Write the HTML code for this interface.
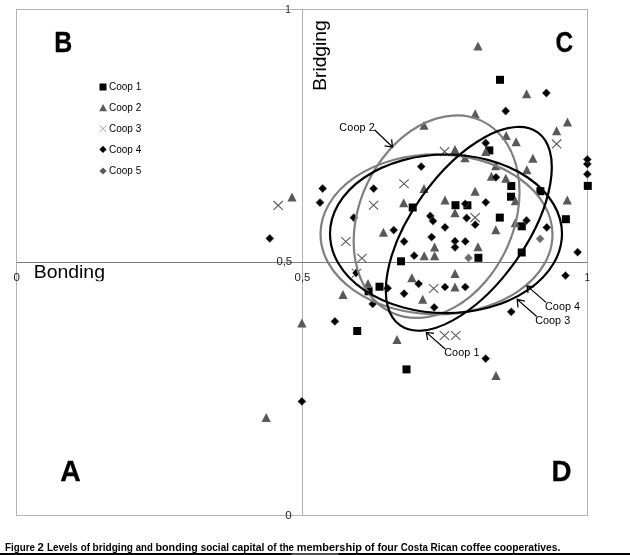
<!DOCTYPE html>
<html><head><meta charset="utf-8"><title>Figure 2</title>
<style>
html,body{margin:0;padding:0;background:#fff}
body{width:630px;height:555px;overflow:hidden;position:relative;font-family:"Liberation Sans",sans-serif}
svg{position:absolute;left:0;top:0;display:block}
text{font-family:"Liberation Sans",sans-serif;fill:#000}
.q{font-weight:bold;font-size:30.4px;stroke:#000;stroke-width:0.3px}
.ax{font-size:18.6px}
.tk{font-size:10px;fill:#222}
.lg{font-size:10px;fill:#000}
.lb{font-size:10.8px;fill:#000}
.cap text{font-weight:bold;font-size:11.8px}
</style></head><body>
<svg width="630" height="555" viewBox="0 0 630 555">
<rect width="630" height="555" fill="#fff"/>
<rect x="16.5" y="9.5" width="571" height="506" fill="none" stroke="#b4b4b4" stroke-width="1"/>
<line x1="302.5" y1="9.5" x2="302.5" y2="515.5" stroke="#b0b0b0" stroke-width="1"/>
<line x1="16.5" y1="262.5" x2="587.5" y2="262.5" stroke="#7c7c7c" stroke-width="1"/>
<text class="q" x="54.3" y="52" textLength="18" lengthAdjust="spacingAndGlyphs">B</text>
<text class="q" x="555.4" y="52" textLength="17.6" lengthAdjust="spacingAndGlyphs">C</text>
<text class="q" x="60.2" y="481" textLength="20.5" lengthAdjust="spacingAndGlyphs">A</text>
<text class="q" x="551.6" y="480.7" textLength="20" lengthAdjust="spacingAndGlyphs">D</text>
<svg x="0" y="255" width="200" height="26.2" viewBox="0 255 200 26.2"><text class="ax" x="33.7" y="278.2" textLength="71.3" lengthAdjust="spacingAndGlyphs">Bonding</text></svg>
<text class="ax" transform="translate(325.7 90.8) rotate(-90)" x="0" y="0" textLength="70.5" lengthAdjust="spacingAndGlyphs">Bridging</text>
<text class="tk" x="13.6" y="281" textLength="6.4" lengthAdjust="spacingAndGlyphs">0</text>
<text class="tk" x="584.6" y="281">1</text>
<text class="tk" x="285.2" y="12.8">1</text>
<text class="tk" x="276.4" y="265.2" textLength="15.8" lengthAdjust="spacingAndGlyphs">0,5</text>
<text class="tk" x="294.6" y="281.2" textLength="15.8" lengthAdjust="spacingAndGlyphs">0,5</text>
<text class="tk" x="285.2" y="519.1" textLength="6.4" lengthAdjust="spacingAndGlyphs">0</text>
<g class="lg">
<rect x="99.5" y="83.5" width="7" height="7" fill="#000"/>
<path d="M103.1 104L107 111.3H99.2Z" fill="#595959"/>
<path d="M99.5 125.3L106.5 132M106.5 125.3L99.5 132" stroke="#8a8a8a" stroke-width="0.8" fill="none"/>
<path d="M103 145.8L106.6 149.4L103 153L99.4 149.4Z" fill="#000"/>
<path d="M103 167.4L106.6 171L103 174.6L99.4 171Z" fill="#595959"/>
<text x="109" y="90.2">Coop 1</text>
<text x="109" y="111">Coop 2</text>
<text x="109" y="131.8">Coop 3</text>
<text x="109" y="152.6">Coop 4</text>
<text x="109" y="174.2">Coop 5</text>
</g>
<g fill="#000"><rect x="496.0" y="75.8" width="8" height="8"/><rect x="485.3" y="146.4" width="8" height="8"/><rect x="507.3" y="182.0" width="8" height="8"/><rect x="507.0" y="192.7" width="8" height="8"/><rect x="536.4" y="187.2" width="8" height="8"/><rect x="583.8" y="181.9" width="8" height="8"/><rect x="561.9" y="215.2" width="8" height="8"/><rect x="495.8" y="213.6" width="8" height="8"/><rect x="517.8" y="222.3" width="8" height="8"/><rect x="408.7" y="203.5" width="8" height="8"/><rect x="451.5" y="201.2" width="8" height="8"/><rect x="463.4" y="201.3" width="8" height="8"/><rect x="474.4" y="253.8" width="8" height="8"/><rect x="517.7" y="248.5" width="8" height="8"/><rect x="397.0" y="257.3" width="8" height="8"/><rect x="375.5" y="282.7" width="8" height="8"/><rect x="364.6" y="287.3" width="8" height="8"/><rect x="353.2" y="327.0" width="8" height="8"/><rect x="402.5" y="365.4" width="8" height="8"/></g>
<g fill="#595959"><path d="M292.0 192.5L296.6 201.5H287.4Z"/><path d="M478.0 41.5L482.6 50.5H473.4Z"/><path d="M475.2 109.3L479.8 118.3H470.6Z"/><path d="M424.0 120.8L428.6 129.8H419.4Z"/><path d="M526.6 89.2L531.2 98.2H522.0Z"/><path d="M567.5 117.5L572.1 126.5H562.9Z"/><path d="M506.2 131.0L510.8 140.0H501.6Z"/><path d="M516.1 137.2L520.8 146.2H511.5Z"/><path d="M532.9 153.8L537.5 162.8H528.2Z"/><path d="M526.9 165.3L531.5 174.3H522.2Z"/><path d="M455.0 145.1L459.6 154.1H450.4Z"/><path d="M465.0 153.3L469.6 162.3H460.4Z"/><path d="M485.7 146.9L490.3 155.9H481.1Z"/><path d="M495.8 161.3L500.4 170.3H491.2Z"/><path d="M491.4 171.7L496.0 180.7H486.8Z"/><path d="M505.8 173.7L510.4 182.7H501.2Z"/><path d="M424.0 184.1L428.6 193.1H419.4Z"/><path d="M475.1 186.8L479.8 195.8H470.5Z"/><path d="M445.0 195.4L449.6 204.4H440.4Z"/><path d="M403.7 198.3L408.3 207.3H399.1Z"/><path d="M455.0 208.3L459.6 217.3H450.4Z"/><path d="M515.4 196.3L520.0 205.3H510.8Z"/><path d="M567.3 195.6L571.9 204.6H562.6Z"/><path d="M515.3 218.2L519.9 227.2H510.6Z"/><path d="M495.8 225.3L500.4 234.3H491.2Z"/><path d="M383.4 227.8L388.0 236.8H378.8Z"/><path d="M434.6 242.6L439.2 251.6H430.0Z"/><path d="M478.0 242.2L482.6 251.2H473.4Z"/><path d="M424.2 251.2L428.8 260.2H419.6Z"/><path d="M434.6 251.2L439.2 260.2H430.0Z"/><path d="M455.0 269.1L459.6 278.1H450.4Z"/><path d="M411.9 273.3L416.5 282.3H407.2Z"/><path d="M455.0 282.6L459.6 291.6H450.4Z"/><path d="M368.0 279.1L372.6 288.1H363.4Z"/><path d="M343.0 290.1L347.6 299.1H338.4Z"/><path d="M422.7 294.7L427.3 303.7H418.1Z"/><path d="M301.9 318.5L306.5 327.5H297.2Z"/><path d="M397.0 334.9L401.6 343.9H392.4Z"/><path d="M266.2 413.1L270.8 422.1H261.6Z"/><path d="M496.0 371.0L500.6 380.0H491.4Z"/><path d="M556.6 126.3L561.2 135.3H552.0Z"/></g>
<g fill="none" stroke="#595959" stroke-width="1.1"><path d="M273.5 201.0L282.9 209.8M282.9 201.0L273.5 209.8"/><path d="M341.1 237.1L350.5 245.9M350.5 237.1L341.1 245.9"/><path d="M357.2 253.9L366.6 262.7M366.6 253.9L357.2 262.7"/><path d="M351.8 268.8L361.2 277.6M361.2 268.8L351.8 277.6"/><path d="M368.9 200.9L378.3 209.7M378.3 200.9L368.9 209.7"/><path d="M399.3 179.3L408.7 188.1M408.7 179.3L399.3 188.1"/><path d="M439.9 147.2L449.3 156.0M449.3 147.2L439.9 156.0"/><path d="M551.9 139.5L561.3 148.3M561.3 139.5L551.9 148.3"/><path d="M470.4 213.2L479.8 222.0M479.8 213.2L470.4 222.0"/><path d="M429.0 284.1L438.4 292.9M438.4 284.1L429.0 292.9"/><path d="M439.8 331.1L449.2 339.9M449.2 331.1L439.8 339.9"/><path d="M451.0 331.1L460.4 339.9M460.4 331.1L451.0 339.9"/></g>
<path fill="#fff" d="M356 267.6L360.6 272.9L356 278.2L351.4 272.9Z"/><path fill="#000" d="M356 268.6L359.6 272.9L356 277.2L352.4 272.9Z"/>
<g fill="#000" stroke="#777" stroke-width="0.5"><path d="M269.8 234.2L273.9 238.4L269.8 242.6L265.7 238.4Z"/><path d="M322.6 184.3L326.8 188.5L322.6 192.7L318.5 188.5Z"/><path d="M320.0 198.4L324.1 202.6L320.0 206.8L315.9 202.6Z"/><path d="M373.6 184.4L377.8 188.6L373.6 192.8L369.5 188.6Z"/><path d="M353.8 213.5L357.9 217.7L353.8 221.8L349.7 217.7Z"/><path d="M421.2 162.4L425.3 166.6L421.2 170.8L417.1 166.6Z"/><path d="M485.7 138.8L489.8 143.0L485.7 147.2L481.6 143.0Z"/><path d="M496.0 173.2L500.1 177.3L496.0 181.5L491.9 177.3Z"/><path d="M505.7 106.8L509.8 111.0L505.7 115.2L501.6 111.0Z"/><path d="M546.4 88.8L550.5 93.0L546.4 97.2L542.2 93.0Z"/><path d="M587.4 159.8L591.5 164.0L587.4 168.2L583.2 164.0Z"/><path d="M587.4 155.2L591.5 159.4L587.4 163.6L583.2 159.4Z"/><path d="M587.4 170.0L591.5 174.2L587.4 178.3L583.2 174.2Z"/><path d="M465.2 199.7L469.3 203.8L465.2 208.0L461.1 203.8Z"/><path d="M485.8 198.2L489.9 202.3L485.8 206.5L481.7 202.3Z"/><path d="M430.3 211.8L434.4 216.0L430.3 220.2L426.2 216.0Z"/><path d="M433.0 216.8L437.1 221.0L433.0 225.2L428.9 221.0Z"/><path d="M466.6 213.8L470.8 218.0L466.6 222.2L462.5 218.0Z"/><path d="M475.2 220.5L479.3 224.7L475.2 228.8L471.1 224.7Z"/><path d="M445.0 223.2L449.1 227.3L445.0 231.5L440.9 227.3Z"/><path d="M526.5 216.3L530.6 220.5L526.5 224.7L522.4 220.5Z"/><path d="M546.8 223.2L550.9 227.4L546.8 231.6L542.6 227.4Z"/><path d="M393.7 225.9L397.8 230.1L393.7 234.2L389.6 230.1Z"/><path d="M404.1 237.3L408.2 241.5L404.1 245.7L400.0 241.5Z"/><path d="M431.6 232.9L435.8 237.1L431.6 241.2L427.5 237.1Z"/><path d="M455.0 237.0L459.1 241.2L455.0 245.3L450.9 241.2Z"/><path d="M465.3 237.2L469.4 241.4L465.3 245.6L461.2 241.4Z"/><path d="M455.0 243.2L459.1 247.3L455.0 251.5L450.9 247.3Z"/><path d="M414.2 251.5L418.3 255.7L414.2 259.8L410.1 255.7Z"/><path d="M577.6 248.0L581.8 252.2L577.6 256.3L573.5 252.2Z"/><path d="M565.5 271.5L569.6 275.6L565.5 279.8L561.4 275.6Z"/><path d="M387.6 284.1L391.8 288.2L387.6 292.3L383.5 288.2Z"/><path d="M404.1 289.5L408.2 293.6L404.1 297.8L400.0 293.6Z"/><path d="M418.6 279.7L422.8 283.8L418.6 287.9L414.5 283.8Z"/><path d="M445.0 282.9L449.1 287.0L445.0 291.1L440.9 287.0Z"/><path d="M465.3 282.9L469.4 287.0L465.3 291.1L461.2 287.0Z"/><path d="M372.7 299.8L376.8 303.9L372.7 308.0L368.6 303.9Z"/><path d="M434.2 303.2L438.3 307.4L434.2 311.5L430.1 307.4Z"/><path d="M511.2 307.7L515.4 311.8L511.2 315.9L507.1 311.8Z"/><path d="M334.9 317.2L339.0 321.4L334.9 325.5L330.8 321.4Z"/><path d="M301.9 397.2L306.0 401.4L301.9 405.5L297.8 401.4Z"/><path d="M485.7 354.5L489.8 358.6L485.7 362.8L481.6 358.6Z"/></g>
<g fill="#6b6b6b" stroke="#999" stroke-width="0.5"><path d="M468.5 253.8L472.6 258.0L468.5 262.1L464.4 258.0Z"/><path d="M540.1 234.7L544.2 238.8L540.1 243.0L536.0 238.8Z"/></g>
<g fill="none" stroke-width="2.2">
<ellipse cx="436.6" cy="216.7" rx="105.9" ry="76.9" transform="rotate(-64.8 436.6 216.7)" stroke="#7f7f7f"/>
<ellipse cx="436.5" cy="234.3" rx="116" ry="80" transform="rotate(0.2 436.5 234.3)" stroke="#7f7f7f"/>
<ellipse cx="468.8" cy="228.8" rx="118.5" ry="56.9" transform="rotate(-54.45 468.8 228.8)" stroke="#000"/>
<ellipse cx="446" cy="233.8" rx="116" ry="79.3" stroke="#000"/>
</g>
<g fill="none" stroke="#000" stroke-width="1.25">
<path d="M374.5 129.8L392.5 147M384.5 145.8L392.5 147L391.6 139.4"/>
<path d="M546 302.4L527 285.9M534.3 286.8L527 285.9L528 293"/>
<path d="M536.7 316.5L517.2 299.4M524.8 301.2L517.2 299.4L518 307.5"/>
<path d="M445.2 349L426.3 332.4M434 333.3L426.3 332.4L427.7 340"/>
</g>
<g class="lb">
<text x="339.3" y="131.2" textLength="35.5">Coop 2</text>
<text x="545" y="309.6" textLength="35">Coop 4</text>
<text x="535.2" y="323.7" textLength="35">Coop 3</text>
<text x="444.2" y="356.2" textLength="35.3">Coop 1</text>
</g>
<g class="cap"><text x="5.1" y="550.8" textLength="29.8" lengthAdjust="spacingAndGlyphs">Figure</text><text x="37.6" y="550.8" textLength="6.3" lengthAdjust="spacingAndGlyphs">2</text><text x="47" y="550.8" textLength="30.9" lengthAdjust="spacingAndGlyphs">Levels</text><text x="80.7" y="550.8" textLength="9.2" lengthAdjust="spacingAndGlyphs">of</text><text x="92.6" y="550.8" textLength="40.4" lengthAdjust="spacingAndGlyphs">bridging</text><text x="135.8" y="550.8" textLength="17.0" lengthAdjust="spacingAndGlyphs">and</text><text x="155.5" y="550.8" textLength="42.3" lengthAdjust="spacingAndGlyphs">bonding</text><text x="200.8" y="550.8" textLength="28.1" lengthAdjust="spacingAndGlyphs">social</text><text x="231.7" y="550.8" textLength="32.7" lengthAdjust="spacingAndGlyphs">capital</text><text x="267.3" y="550.8" textLength="9.3" lengthAdjust="spacingAndGlyphs">of</text><text x="279.4" y="550.8" textLength="14.6" lengthAdjust="spacingAndGlyphs">the</text><text x="296.7" y="550.8" textLength="65.2" lengthAdjust="spacingAndGlyphs">membership</text><text x="364.7" y="550.8" textLength="9.8" lengthAdjust="spacingAndGlyphs">of</text><text x="377.4" y="550.8" textLength="20.5" lengthAdjust="spacingAndGlyphs">four</text><text x="400.8" y="550.8" textLength="27.0" lengthAdjust="spacingAndGlyphs">Costa</text><text x="430.5" y="550.8" textLength="27.3" lengthAdjust="spacingAndGlyphs">Rican</text><text x="460.6" y="550.8" textLength="30.6" lengthAdjust="spacingAndGlyphs">coffee</text><text x="494.1" y="550.8" textLength="66.2" lengthAdjust="spacingAndGlyphs">cooperatives.</text></g>
<rect x="0" y="553" width="630" height="2" fill="#0a0000"/><rect x="291.5" y="553" width="47" height="2" fill="#4f4f4f"/>
</svg>
</body></html>
